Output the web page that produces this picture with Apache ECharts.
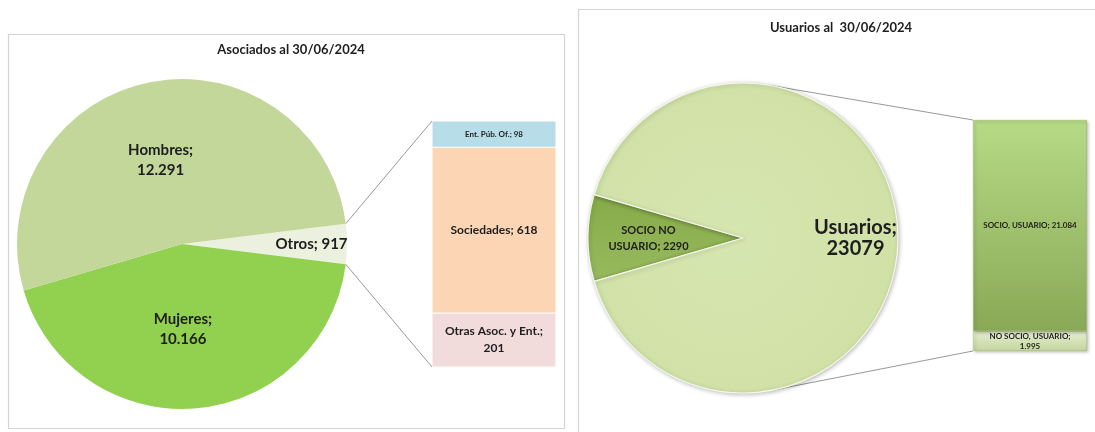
<!DOCTYPE html>
<html><head><meta charset="utf-8">
<script src="https://cdn.jsdelivr.net/npm/echarts@6/dist/echarts.min.js"></script>
<style>html,body{margin:0;padding:0;background:#fff}#c{width:1095px;height:432px}</style>
</head><body><div id="c"></div>
<script>
// ---- data ----
const asocNames = ['Otros', 'Mujeres', 'Hombres'];
const asocValues = [917, 10166, 12291];
const otrosNames = ['Otras Asoc. y Ent.', 'Sociedades', 'Ent. Púb. Of.'];
const otrosValues = [201, 618, 98];
const usrNames = ['SOCIO NO USUARIO', 'Usuarios'];
const usrValues = [2290, 23079];
const usrBarNames = ['NO SOCIO, USUARIO', 'SOCIO, USUARIO'];
const usrBarValues = [1995, 21084];
const titles = ['Asociados al 30/06/2024', 'Usuarios al  30/06/2024'];

// ---- layout ----
const FONT = 'Lato, "Open Sans", sans-serif';
const TXT = '#1e1e1e';
const P1 = {cx: 182, cy: 244, r: 165};
const B1 = {left: 432, top: 121, width: 124, height: 246};
const P2 = {cx: 743, cy: 238, r: 155};
const B2 = {left: 973, top: 120, width: 114, height: 231};

const sum = a => a.reduce((s, v) => s + v, 0);
const esNum = v => String(v).replace(/\B(?=(\d{3})+(?!\d))/g, '.');

const asocTotal = sum(asocValues);
const otrosHalf = asocValues[0] / asocTotal * 180;       // half angle of "Otros" slice
const usrTotal = sum(usrValues);
const socioHalf = usrValues[0] / usrTotal * 180;

const asocColors = ['#EBF1DE', '#92D050', '#C4D79B'];
const otrosColors = ['#F2DCDB', '#FCD5B4', '#B7DEE8'];

function lg(c1, c2) { return new echarts.graphic.LinearGradient(0, 0, 0, 1, [{offset: 0, color: c1}, {offset: 1, color: c2}]); }

const option = {
  animation: false,
  backgroundColor: '#fff',
  title: [
    {text: titles[0], left: 286, top: 38, textAlign: 'center',
     textStyle: {fontFamily: FONT, fontSize: 13, fontWeight: 'bold', color: TXT}},
    {text: titles[1], left: 836, top: 16, textAlign: 'center',
     textStyle: {fontFamily: FONT, fontSize: 13, fontWeight: 'bold', color: TXT}}
  ],
  grid: [
    {left: B1.left, top: B1.top, width: B1.width, height: B1.height},
    {left: B2.left, top: B2.top, width: B2.width, height: B2.height}
  ],
  xAxis: [
    {type: 'category', data: ['a'], gridIndex: 0, show: false},
    {type: 'category', data: ['a'], gridIndex: 1, show: false}
  ],
  yAxis: [
    {type: 'value', min: 0, max: sum(otrosValues), gridIndex: 0, show: false},
    {type: 'value', min: 0, max: sum(usrBarValues), gridIndex: 1, show: false}
  ],
  series: [
    {
      type: 'pie', silent: true, center: [P1.cx, P1.cy], radius: [0, P1.r],
      startAngle: otrosHalf, clockwise: true, avoidLabelOverlap: false,
      labelLine: {show: false},
      data: asocNames.map((n, i) => ({
        name: n, value: asocValues[i], itemStyle: {color: asocColors[i]},
        label: i === 0 ? {padding: [0, 0, 0, 88]} : (i === 2 ? {padding: [0, 8, 8, 0]} : {padding: [0, 12, 0, 0]})
      })),
      label: {
        position: 'inside', fontFamily: FONT, fontSize: 15, fontWeight: 'bold', color: TXT, lineHeight: 20,
        formatter: p => p.dataIndex === 0 ? p.name + '; ' + p.value : p.name + ';\n' + esNum(p.value)
      }
    },
    ...otrosNames.map((n, i) => ({
      type: 'bar', xAxisIndex: 0, yAxisIndex: 0, stack: 'o', barWidth: '100%', silent: true,
      name: n, data: [otrosValues[i]],
      itemStyle: {color: otrosColors[i], borderColor: '#fff', borderWidth: 0.5},
      label: {
        show: true, position: 'inside', fontFamily: FONT, fontWeight: 'bold', color: TXT,
        fontSize: i === 2 ? 8 : 12, lineHeight: 17,
        formatter: () => i === 0 ? n + ';\n' + otrosValues[i] : n + '; ' + otrosValues[i]
      }
    })),
    {
      type: 'pie', silent: true, center: [P2.cx, P2.cy], radius: [0, P2.r],
      startAngle: 180 + socioHalf, clockwise: true, avoidLabelOverlap: false,
      labelLine: {show: false},
      data: [
        {name: usrNames[0], value: usrValues[0],
         itemStyle: {color: lg('#86AA48', '#98BA5E')},
         label: {fontFamily: FONT, fontWeight: 'bold', color: TXT, fontSize: 11, lineHeight: 16, padding: [0, 28, 4, 0],
                 formatter: p => 'SOCIO NO\nUSUARIO; ' + p.value}},
        {name: usrNames[1], value: usrValues[1],
         itemStyle: {color: new echarts.graphic.RadialGradient(0.45, 0.5, 0.62, [{offset: 0, color: '#D6E6B0'}, {offset: 0.92, color: '#D0E1A6'}, {offset: 1, color: '#AFC879'}])},
         label: {fontFamily: FONT, fontWeight: 'bold', color: TXT, fontSize: 20, lineHeight: 21, padding: [0, 0, 2, 64],
                 formatter: p => p.name + ';\n' + p.value}}
      ],
      itemStyle: {borderColor: '#F4F8EA', borderWidth: 1.2, shadowBlur: 4, shadowColor: 'rgba(0,0,0,0.25)', shadowOffsetX: 1, shadowOffsetY: 1},
      label: {position: 'inside', fontFamily: FONT, fontWeight: 'bold', color: TXT}
    },
    {
      type: 'bar', xAxisIndex: 1, yAxisIndex: 1, stack: 'u', barWidth: '100%', silent: true,
      name: usrBarNames[0], data: [usrBarValues[0]],
      itemStyle: {color: lg('#E6EFD2', '#C3D59C'), borderColor: '#A9BF80', borderWidth: 0.6,
        shadowBlur: 3, shadowColor: 'rgba(0,0,0,0.3)', shadowOffsetX: 1.5, shadowOffsetY: 1.5},
      label: {show: true, position: 'inside', fontFamily: FONT, fontWeight: 'bold', color: TXT, fontSize: 8, lineHeight: 10,
        formatter: () => usrBarNames[0] + ';\n' + esNum(usrBarValues[0])}
    },
    {
      type: 'bar', xAxisIndex: 1, yAxisIndex: 1, stack: 'u', barWidth: '100%', silent: true,
      name: usrBarNames[1], data: [usrBarValues[1]],
      itemStyle: {color: lg('#B6DA86', '#8AA956'), borderColor: '#9DBA6C', borderWidth: 0.6,
        shadowBlur: 3, shadowColor: 'rgba(0,0,0,0.3)', shadowOffsetX: 1.5, shadowOffsetY: 1.5},
      label: {show: true, position: 'inside', fontFamily: FONT, fontWeight: 'bold', color: TXT, fontSize: 8,
        formatter: () => usrBarNames[1] + '; ' + esNum(usrBarValues[1])}
    }
  ]
};

// ---- decorations: panel frames and connector lines ----
const rad = d => d * Math.PI / 180;
const onCircle = (P, deg) => [P.cx + P.r * Math.cos(rad(deg)), P.cy - P.r * Math.sin(rad(deg))];
function tangent(P, pt, upper) {
  const dx = pt[0] - P.cx, dy = -(pt[1] - P.cy);
  const d = Math.hypot(dx, dy), base = Math.atan2(dy, dx) * 180 / Math.PI;
  const off = Math.acos(P.r / d) * 180 / Math.PI;
  return onCircle(P, upper ? base + off : base - off);
}
const b1TL = [B1.left, B1.top], b1BL = [B1.left, B1.top + B1.height];
const b2TL = [B2.left, B2.top], b2BL = [B2.left, B2.top + B2.height];
const lineStyle = {stroke: '#8c8c8c', lineWidth: 0.9};
option.graphic = [
  {type: 'rect', silent: true, shape: {x: 8.5, y: 34.5, width: 556, height: 394}, style: {fill: 'none', stroke: '#d4d4d4', lineWidth: 1.2}},
  {type: 'rect', silent: true, shape: {x: 578.5, y: 9.5, width: 540, height: 440}, style: {fill: 'none', stroke: '#d4d4d4', lineWidth: 1.2}},
  {type: 'polyline', silent: true, shape: {points: [onCircle(P1, otrosHalf), b1TL]}, style: lineStyle},
  {type: 'polyline', silent: true, shape: {points: [onCircle(P1, -otrosHalf), b1BL]}, style: lineStyle},
  {type: 'polyline', silent: true, shape: {points: [tangent(P2, b2TL, true), b2TL]}, style: lineStyle},
  {type: 'polyline', silent: true, shape: {points: [tangent(P2, b2BL, false), b2BL]}, style: lineStyle}
];

const chart = echarts.init(document.getElementById('c'), null, {renderer: 'canvas'});
chart.setOption(option);
</script>
</body></html>
